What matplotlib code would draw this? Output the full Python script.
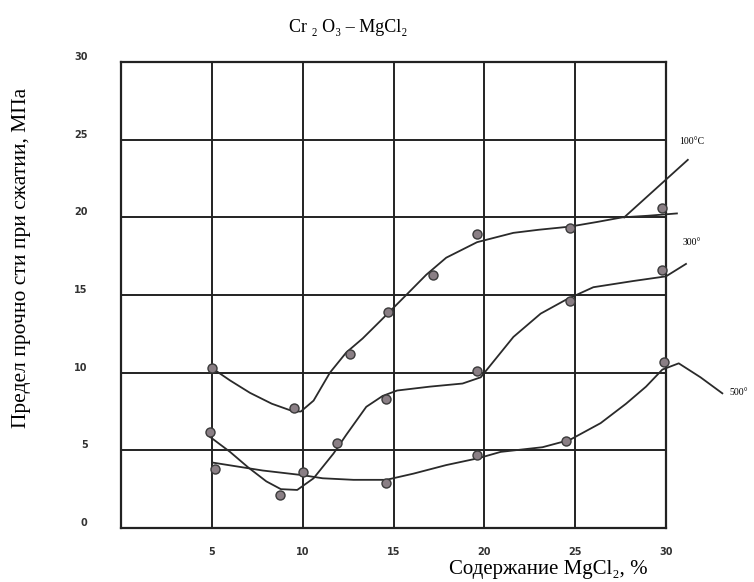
import numpy as np
import matplotlib
matplotlib.use("Agg")
import matplotlib.pyplot as plt

# measured points (MgCl2 %, strength MPa)
pts100_x = [5.0, 9.5, 12.6, 14.7, 17.2, 19.6, 24.7, 29.8]
pts100_y = [10.3, 7.7, 11.2, 13.9, 16.3, 18.9, 19.3, 20.6]
pts300_x = [4.9, 8.75, 11.9, 14.6, 19.6, 24.7, 29.8]
pts300_y = [6.2, 2.1, 5.5, 8.3, 10.1, 14.6, 16.6]
pts500_x = [5.2, 10.0, 14.6, 19.6, 24.5, 29.9]
pts500_y = [3.8, 3.6, 2.9, 4.7, 5.6, 10.7]

# hand drawn curves
c100_x = [5.0, 6.0, 7.1, 8.3, 9.5, 9.9, 10.6, 11.5, 12.4, 13.3, 14.25, 15.7, 16.8,
          17.9, 19.6, 21.6, 23.0, 24.7, 26.2, 27.6, 29.0, 30.6]
c100_y = [10.3, 9.5, 8.7, 8.0, 7.5, 7.5, 8.2, 10.0, 11.3, 12.2, 13.3, 15.0, 16.3,
          17.4, 18.4, 19.0, 19.2, 19.4, 19.7, 20.0, 20.1, 20.25]
lead100_x = [27.7, 31.2]
lead100_y = [20.0, 23.7]

c300_x = [4.86, 6.0, 7.0, 8.0, 8.8, 9.7, 10.6, 11.7, 12.4, 13.5, 14.4, 15.2, 17.0,
          18.8, 19.8, 21.6, 23.1, 24.5, 26.0, 28.2, 30.0, 31.1]
c300_y = [5.9, 4.9, 3.9, 3.0, 2.5, 2.45, 3.2, 4.8, 6.0, 7.8, 8.5, 8.85, 9.1,
          9.3, 9.7, 12.3, 13.8, 14.7, 15.5, 15.9, 16.2, 17.0]

c500_x = [5.1, 7.8, 10.0, 11.1, 12.8, 14.6, 16.1, 17.9, 19.7, 20.9, 23.2, 24.7,
          26.4, 27.8, 28.9, 29.8, 30.7, 31.9, 33.1]
c500_y = [4.2, 3.7, 3.4, 3.2, 3.1, 3.1, 3.5, 4.05, 4.5, 4.9, 5.2, 5.67,
          6.75, 8.0, 9.1, 10.2, 10.6, 9.7, 8.67]

ticks = [0, 5, 10, 15, 20, 25, 30]

fig = plt.figure(figsize=(7.54, 5.82), dpi=100)
ax = fig.add_axes([0.1605, 0.0928, 0.7228, 0.8007])
ax.set_xlim(0, 30)
ax.set_ylim(0, 30)

# grid drawn as plain dark lines like the scan
for v in ticks[1:-1]:
    ax.axhline(v, color="#222222", lw=1.4, zorder=1)
    ax.axvline(v, color="#222222", lw=1.4, zorder=1)
for s in ax.spines.values():
    s.set_linewidth(1.6)
    s.set_color("#222222")

line_kw = dict(color="#2a2a2a", lw=1.3, clip_on=False, zorder=3)
ax.plot(c100_x, c100_y, **line_kw)
ax.plot(lead100_x, lead100_y, **line_kw)
ax.plot(c300_x, c300_y, **line_kw)
ax.plot(c500_x, c500_y, **line_kw)

mk = dict(ls="none", marker="o", ms=6.5, mfc="#8a7f85", mec="#3a3a3a", mew=1.0,
          clip_on=False, zorder=4)
ax.plot(pts100_x, pts100_y, **mk)
ax.plot(pts300_x, pts300_y, **mk)
ax.plot(pts500_x, pts500_y, **mk)

ax.set_xticks(ticks[1:])
ax.set_yticks(ticks)
ax.tick_params(length=0)
ax.tick_params(axis="x", pad=14, labelsize=7, labelcolor="#333333")
ax.tick_params(axis="y", pad=24, labelsize=7, labelcolor="#333333")
for lbl in ax.get_xticklabels() + ax.get_yticklabels():
    lbl.set_fontweight("bold")
for lbl in ax.get_yticklabels():
    lbl.set_va("bottom")

serif = "Liberation Serif"
ax.text(30.75, 24.9, "100\u00b0C", fontsize=7, family=serif, ha="left", va="center")
ax.text(30.9, 18.4, "300\u00b0", fontsize=7, family=serif, ha="left", va="center")
ax.text(33.5, 8.7, "500\u00b0", fontsize=7, family=serif, ha="left", va="center")

fig.text(0.462, 0.953, "Cr \u2082 O\u2083 \u2013 MgCl\u2082", fontsize=13, family=serif,
         ha="center", va="center")
fig.text(0.727, 0.021, "Содержание MgCl\u2082, %", fontsize=15, family=serif,
         ha="center", va="center")
fig.text(0.029, 0.557, "Предел прочно сти при сжатии, МПа", fontsize=15.5, family=serif,
         rotation=90, ha="center", va="center")

fig.savefig("out.png", dpi=100)
